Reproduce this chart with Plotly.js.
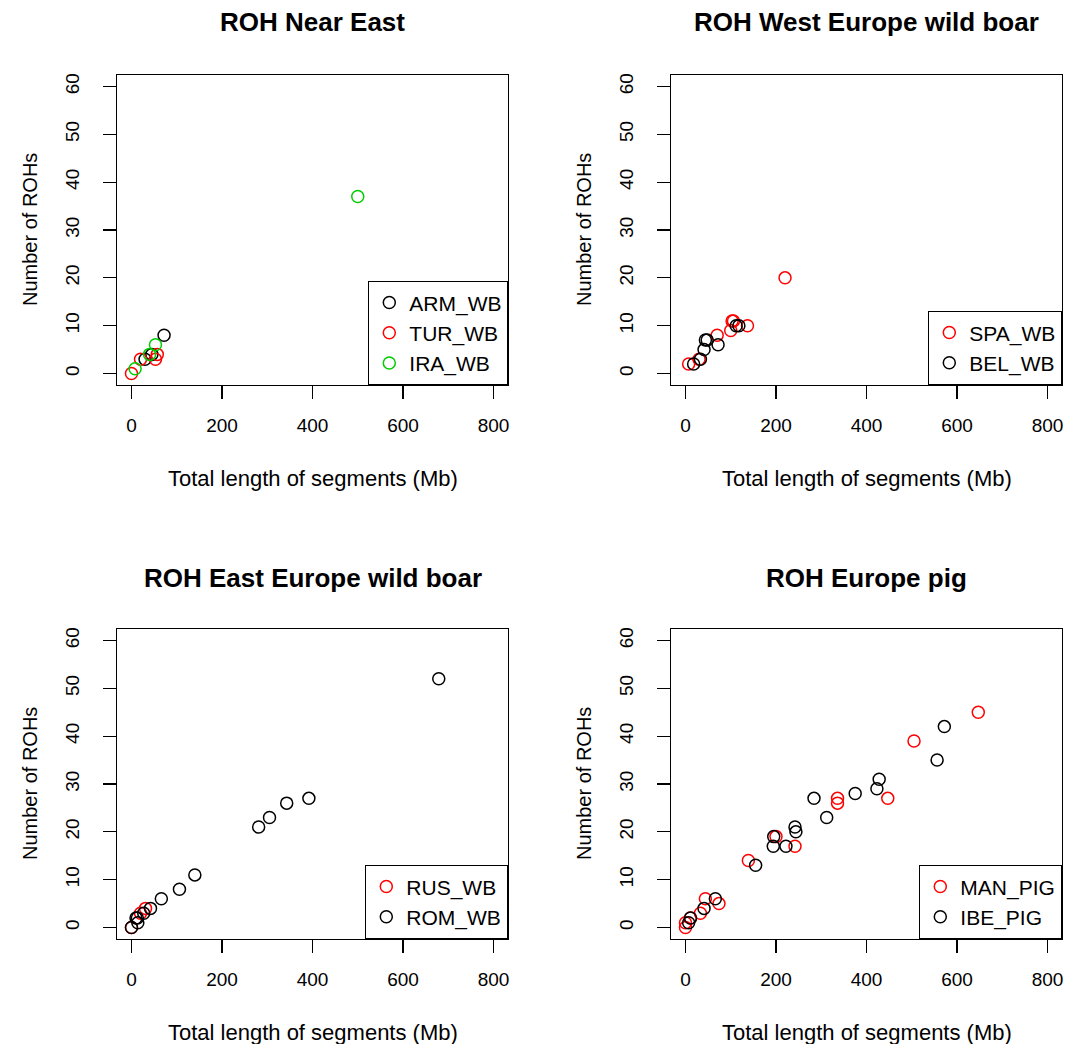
<!DOCTYPE html>
<html>
<head>
<meta charset="utf-8">
<script src="https://cdn.plot.ly/plotly-3.0.1.min.js"></script>
<style>html,body{margin:0;padding:0;background:#fff;}#chart{width:1079px;height:1044px;}</style>
</head>
<body>
<div id="chart"></div>
<script>
// ---- Data ----
// Panel 1: ROH Near East
const ARM_WB_len = [30, 45, 72];
const ARM_WB_num = [3, 4, 8];
const TUR_WB_len = [0, 20, 53, 57];
const TUR_WB_num = [0, 3, 3, 4];
const IRA_WB_len = [8, 40, 53, 500];
const IRA_WB_num = [1, 4, 6, 37];
// Panel 2: ROH West Europe wild boar
const SPA_WB_len = [7, 30, 70, 100, 103, 106, 137, 220];
const SPA_WB_num = [2, 3, 8, 9, 11, 11, 10, 20];
const BEL_WB_len = [18, 33, 41, 44, 48, 72, 112, 118];
const BEL_WB_num = [2, 3, 5, 7, 7, 6, 10, 10];
// Panel 3: ROH East Europe wild boar
const RUS_WB_len = [0, 20, 31];
const RUS_WB_num = [0, 3, 4];
const ROM_WB_len = [0, 10, 13, 14, 27, 42, 66, 106, 140, 281, 305, 343, 392, 679];
const ROM_WB_num = [0, 2, 2, 1, 3, 4, 6, 8, 11, 21, 23, 26, 27, 52];
// Panel 4: ROH Europe pig
const MAN_PIG_len = [0, 0, 11, 33, 44, 74, 139, 200, 242, 336, 336, 447, 505, 647];
const MAN_PIG_num = [0, 1, 2, 3, 6, 5, 14, 19, 17, 27, 26, 27, 39, 45];
const IBE_PIG_len = [7, 11, 41, 66, 155, 194, 195, 222, 242, 244, 284, 312, 375, 423, 428, 556, 572];
const IBE_PIG_num = [1, 2, 4, 6, 13, 17, 19, 17, 21, 20, 27, 23, 28, 29, 31, 35, 42];

const panelTitles = ["ROH Near East", "ROH West Europe wild boar", "ROH East Europe wild boar", "ROH Europe pig"];
const xTitle = "Total length of segments (Mb)";
const yTitle = "Number of ROHs";
const xTicks = [0, 200, 400, 600, 800];
const yTicks = [0, 10, 20, 30, 40, 50, 60];

// ---- Styling ----
const FONT = "Liberation Sans, Arial, Helvetica, sans-serif";
const BLACK = "#000000", RED = "#FF0000", GREEN = "#00CD00";

function tr(name, x, y, color, k) {
  const s = k === 1 ? "" : String(k);
  return {
    type: "scatter", mode: "markers", name: name, x: x, y: y,
    xaxis: "x" + s, yaxis: "y" + s, legend: "legend" + s,
    marker: {symbol: "circle-open", size: 12, color: color, line: {color: color, width: 1.5}},
    hoverinfo: "skip"
  };
}

const traces = [
  tr("ARM_WB", ARM_WB_len, ARM_WB_num, BLACK, 1),
  tr("TUR_WB", TUR_WB_len, TUR_WB_num, RED, 1),
  tr("IRA_WB", IRA_WB_len, IRA_WB_num, GREEN, 1),
  tr("SPA_WB", SPA_WB_len, SPA_WB_num, RED, 2),
  tr("BEL_WB", BEL_WB_len, BEL_WB_num, BLACK, 2),
  tr("RUS_WB", RUS_WB_len, RUS_WB_num, RED, 3),
  tr("ROM_WB", ROM_WB_len, ROM_WB_num, BLACK, 3),
  tr("MAN_PIG", MAN_PIG_len, MAN_PIG_num, RED, 4),
  tr("IBE_PIG", IBE_PIG_len, IBE_PIG_num, BLACK, 4)
];

const W = 1079, H = 1044;
const xDomL = [117 / W, 508 / W], xDomR = [671 / W, 1062 / W];
const yDomT = [1 - 385 / H, 1 - 75 / H], yDomB = [1 - 939 / H, 1 - 629 / H];

function xax(dom, anchor) {
  return {
    domain: dom, anchor: anchor, range: [-32, 832], tickmode: "array", tickvals: xTicks,
    ticktext: xTicks.map(String), showline: true, mirror: true, linecolor: BLACK, linewidth: 1.3,
    ticks: "outside", ticklen: 13, tickwidth: 1.3, tickcolor: BLACK, showgrid: false, zeroline: false,
    tickfont: {family: FONT, size: 19, color: BLACK}, ticklabelstandoff: 10, fixedrange: true
  };
}
function yax(dom, anchor) {
  return {
    domain: dom, anchor: anchor, range: [-2.4, 62.4], tickmode: "array", tickvals: yTicks,
    ticktext: yTicks.map(String), showline: true, mirror: true, linecolor: BLACK, linewidth: 1.3,
    ticks: "outside", ticklen: 13, tickwidth: 1.3, tickcolor: BLACK, showgrid: false, zeroline: false,
    tickangle: -90, tickfont: {family: FONT, size: 19, color: BLACK}, ticklabelstandoff: 16, fixedrange: true
  };
}
function leg(xr, yb) {
  return {
    x: xr, y: yb, xanchor: "right", yanchor: "bottom", bgcolor: "#FFFFFF",
    bordercolor: BLACK, borderwidth: 1.3, font: {family: FONT, size: 21, color: BLACK},
    traceorder: "normal", itemclick: false, itemdoubleclick: false
  };
}

const cx = [(xDomL[0] + xDomL[1]) / 2, (xDomR[0] + xDomR[1]) / 2];
const annotations = [];
const titleY = [1 - 22 / H, 1 - 578 / H];
const xTitleY = [1 - 478 / H, 1 - 1032 / H];
const yTitleX = [30 / W, 584 / W];
const yMid = [(yDomT[0] + yDomT[1]) / 2, (yDomB[0] + yDomB[1]) / 2];
for (let r = 0; r < 2; r++) {
  for (let c = 0; c < 2; c++) {
    annotations.push({xref: "paper", yref: "paper", x: cx[c], y: titleY[r], xanchor: "center", yanchor: "middle",
      text: "<b>" + panelTitles[r * 2 + c] + "</b>", showarrow: false, font: {family: FONT, size: 26, color: BLACK}});
    annotations.push({xref: "paper", yref: "paper", x: cx[c], y: xTitleY[r], xanchor: "center", yanchor: "middle",
      text: xTitle, showarrow: false, font: {family: FONT, size: 22, color: BLACK}});
    annotations.push({xref: "paper", yref: "paper", x: yTitleX[c], y: yMid[r], xanchor: "center", yanchor: "middle",
      text: yTitle, textangle: -90, showarrow: false, font: {family: FONT, size: 20, color: BLACK}});
  }
}

const layout = {
  width: W, height: H, margin: {l: 0, r: 0, t: 0, b: 0},
  paper_bgcolor: "#FFFFFF", plot_bgcolor: "#FFFFFF", showlegend: true,
  xaxis: xax(xDomL, "y"), yaxis: yax(yDomT, "x"),
  xaxis2: xax(xDomR, "y2"), yaxis2: yax(yDomT, "x2"),
  xaxis3: xax(xDomL, "y3"), yaxis3: yax(yDomB, "x3"),
  xaxis4: xax(xDomR, "y4"), yaxis4: yax(yDomB, "x4"),
  legend: leg(xDomL[1], yDomT[0]),
  legend2: leg(xDomR[1], yDomT[0]),
  legend3: leg(xDomL[1], yDomB[0]),
  legend4: leg(xDomR[1], yDomB[0]),
  annotations: annotations
};

Plotly.newPlot("chart", traces, layout, {staticPlot: true, displayModeBar: false});
</script>
</body>
</html>
